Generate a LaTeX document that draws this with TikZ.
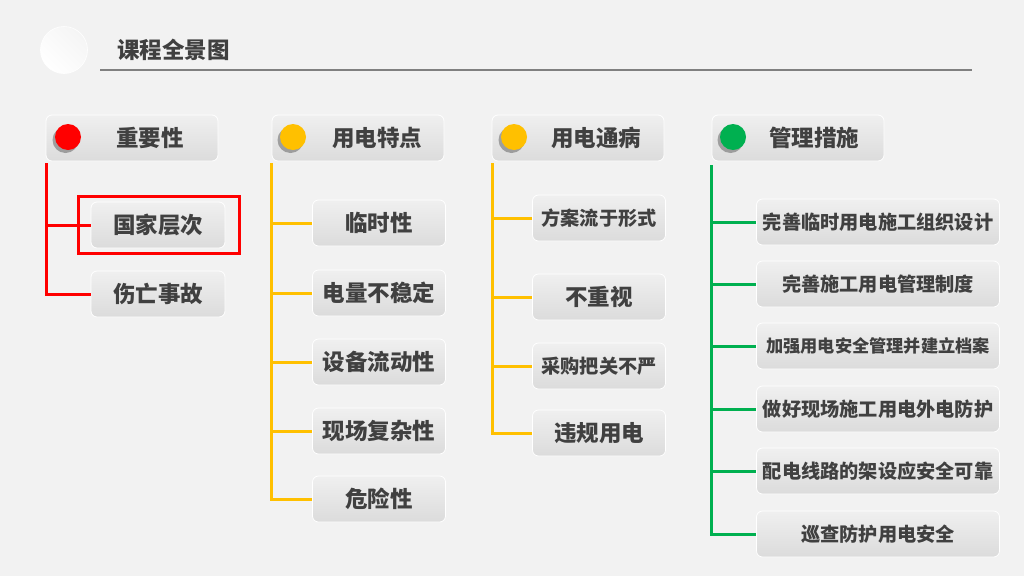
\documentclass[tikz,border=0pt]{standalone}
\usepackage{fontspec}
\newfontfamily\cjk{Noto Sans CJK SC}
\usetikzlibrary{shadows}
\definecolor{bg}{HTML}{F2F2F2}
\definecolor{txt}{HTML}{404040}
\definecolor{cred}{HTML}{FF0000}
\definecolor{cyel}{HTML}{FFC000}
\definecolor{cgrn}{HTML}{00B050}
\tikzset{
  box/.style={draw=white, line width=0.8pt, rounded corners=6pt, left color=black!6, right color=black!14, shading angle=0, inner sep=0pt},
  dot/.style={circle, minimum size=26pt, inner sep=0pt, drop shadow={shadow xshift=-2.5pt, shadow yshift=-3pt, opacity=0.45, fill=black!70}},
  lbl/.style={font=\cjk\bfseries\fontsize{22.5}{26}\selectfont, text=txt, inner sep=0pt},
  sml/.style={font=\cjk\bfseries\fontsize{19.2}{22}\selectfont, text=txt, inner sep=0pt},
  tiny/.style={font=\cjk\bfseries\fontsize{17.2}{20}\selectfont, text=txt, inner sep=0pt},
  conn/.style={line width=3pt},
}
\begin{document}
\begin{tikzpicture}[x=1pt,y=-1pt]
\fill[bg] (0,0) rectangle (1024,576);
\useasboundingbox (0,0) rectangle (1024,576);
% title
\node[circle, minimum size=47pt, inner sep=0pt, draw=white, line width=0.6pt, left color=black!4, right color=white, shading angle=-45] (logo) at (64,50) {};
\node[lbl, font=\cjk\bfseries\fontsize{22.5}{26}\selectfont, anchor=west] (title) at (117,50) {课程全景图};
\coordinate (ul1) at (100,70);
\coordinate (ul2) at (972,70);
\draw[black!50, line width=1.2pt] (ul1) -- (ul2);

% headers
\node[box, minimum width=172pt, minimum height=46pt] (h1) at (132,138) {};
\node[box, minimum width=172pt, minimum height=46pt] (h2) at (358,138) {};
\node[box, minimum width=172pt, minimum height=46pt] (h3) at (578,138) {};
\node[box, minimum width=172pt, minimum height=46pt] (h4) at (798,138) {};
\node[dot, fill=cred] (d1) at (68,137) {};
\node[dot, fill=cyel] (d2) at (293,137) {};
\node[dot, fill=cyel] (d3) at (514,137) {};
\node[dot, fill=cgrn] (d4) at (733,137) {};
\node[lbl] (t1) at (150,138) {重要性};
\node[lbl] (t2) at (377,138) {用电特点};
\node[lbl] (t3) at (596,138) {用电通病};
\node[lbl] (t4) at (814,138) {管理措施};

% column 1
\node[box, minimum width=134pt, minimum height=46pt] (a1) at (158,225) {};
\node[lbl] at (a1) {国家层次};
\node[box, minimum width=134pt, minimum height=46pt] (a2) at (158,294) {};
\node[lbl] at (a2) {伤亡事故};
\node[draw=cred, line width=2.5pt, minimum width=161pt, minimum height=57pt, inner sep=0pt] (hl) at (159,225) {};
\coordinate (c1) at (46,163);
\draw[cred, conn] (c1) |- (a2.west);
\draw[cred, conn] (a1.west -| c1) -- (a1.west);

% column 2
\foreach \n/\y/\t in {b1/223/临时性, b2/293/电量不稳定, b3/362/设备流动性, b4/431/现场复杂性, b5/499/危险性}{
  \node[box, minimum width=133pt, minimum height=46pt] (\n) at (379,\y) {};
  \node[lbl] at (\n) {\t};
}
\coordinate (c2) at (271,163);
\draw[cyel, conn] (c2) |- (b5.west);
\foreach \n in {b1,b2,b3,b4}{\draw[cyel, conn] (\n.west -| c2) -- (\n.west);}

% column 3
\node[box, minimum width=133pt, minimum height=46pt] (e1) at (599,218) {};
\node[sml] at (e1) {方案流于形式};
\node[box, minimum width=133pt, minimum height=46pt] (e2) at (599,297) {};
\node[lbl] at (e2) {不重视};
\node[box, minimum width=133pt, minimum height=46pt] (e3) at (599,366) {};
\node[sml] at (e3) {采购把关不严};
\node[box, minimum width=133pt, minimum height=46pt] (e4) at (599,433) {};
\node[lbl] at (e4) {违规用电};
\coordinate (c3) at (492,163);
\draw[cyel, conn] (c3) |- (e4.west);
\foreach \n in {e1,e2,e3}{\draw[cyel, conn] (\n.west -| c3) -- (\n.west);}

% column 4
\node[box, minimum width=243pt, minimum height=46pt] (g1) at (878,222) {};
\node[sml] at (g1) {完善临时用电施工组织设计};
\node[box, minimum width=243pt, minimum height=46pt] (g2) at (878,284) {};
\node[sml] at (g2) {完善施工用电管理制度};
\node[box, minimum width=243pt, minimum height=46pt] (g3) at (878,346) {};
\node[tiny] at (g3) {加强用电安全管理并建立档案};
\node[box, minimum width=243pt, minimum height=46pt] (g4) at (878,409) {};
\node[sml] at (g4) {做好现场施工用电外电防护};
\node[box, minimum width=243pt, minimum height=46pt] (g5) at (878,471) {};
\node[sml] at (g5) {配电线路的架设应安全可靠};
\node[box, minimum width=243pt, minimum height=46pt] (g6) at (878,534) {};
\node[sml] at (g6) {巡查防护用电安全};
\coordinate (c4) at (711,165);
\draw[cgrn, conn] (c4) |- (g6.west);
\foreach \n in {g1,g2,g3,g4,g5}{\draw[cgrn, conn] (\n.west -| c4) -- (\n.west);}
\end{tikzpicture}
\end{document}
